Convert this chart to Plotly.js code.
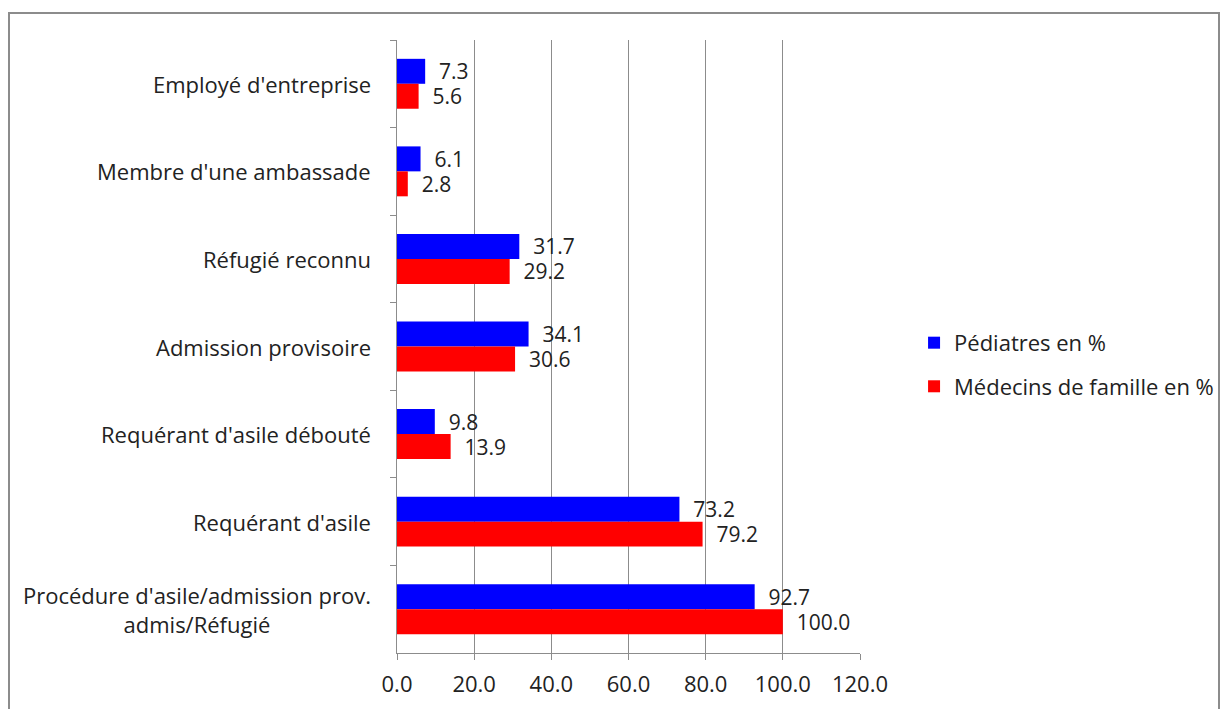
<!DOCTYPE html>
<html>
<head>
<meta charset="utf-8">
<script src="https://cdn.plot.ly/plotly-3.0.1.min.js"></script>
<style>
  html, body { margin: 0; padding: 0; background: #fff; }
  #chart { width: 1222px; height: 709px; }
  #frame { position: absolute; left: 8px; top: 12px; width: 1208px; height: 720px;
           border: 2px solid #8c8c8c; pointer-events: none; }
</style>
</head>
<body>
<div id="chart"></div>
<div id="frame"></div>
<script>
// Categories, top to bottom
const categories = [
  "Employé d'entreprise",
  "Membre d'une ambassade",
  "Réfugié reconnu",
  "Admission provisoire",
  "Requérant d'asile débouté",
  "Requérant d'asile",
  "Procédure d'asile/admission prov.<br>admis/Réfugié"
];
const pediatres = [7.3, 6.1, 31.7, 34.1, 9.8, 73.2, 92.7];
const medecins  = [5.6, 2.8, 29.2, 30.6, 13.9, 79.2, 100.0];
const seriesNames = ["Pédiatres en %", "Médecins de famille en %"];
const xTicks = [0, 20, 40, 60, 80, 100, 120];

const FONT = "Open Sans, sans-serif";
const SIZE = 22;
const TXT = "#222";
const PAD = "\u00a0\u00a0"; // gap between bar end and its value

const bar = (vals, name, color, group) => ({
  type: "bar", orientation: "h",
  y: categories, x: vals, name: name, legendgroup: group,
  marker: { color: color, line: { width: 0 } },
  text: vals.map(v => PAD + v.toFixed(1)),
  textposition: "outside",
  constraintext: "none",
  textfont: { family: FONT, size: 21, color: TXT },
  cliponaxis: false
});

const data = [
  bar(pediatres, seriesNames[0], "#0000ff", "a"),
  bar(medecins, seriesNames[1], "#ff0000", "b")
];

// Category labels drawn as centred multi-line text to the left of the axis
const labels = categories.map(c => ({
  xref: "paper", yref: "y", x: -0.052, y: c,
  xanchor: "right", yanchor: "middle", align: "center",
  text: c, showarrow: false,
  font: { family: FONT, size: SIZE, color: TXT }
}));

const layout = {
  width: 1222, height: 709,
  margin: { l: 397, r: 362, t: 40, b: 56, autoexpand: false },
  paper_bgcolor: "#fff", plot_bgcolor: "#fff",
  barmode: "group", bargap: 0.43, bargroupgap: 0,
  showlegend: true,
  legend: {
    xref: "container", x: 0.748, y: 0.47, xanchor: "left", yanchor: "middle",
    font: { family: FONT, size: SIZE, color: TXT },
    traceorder: "grouped", tracegroupgap: 12, itemwidth: 30
  },
  xaxis: {
    range: [0, 120], tickvals: xTicks, ticktext: xTicks.map(v => v.toFixed(1)),
    showgrid: true, gridcolor: "#8c8c8c", gridwidth: 1,
    zeroline: false, showline: true, linecolor: "#8c8c8c", linewidth: 1,
    ticks: "outside", ticklen: 6, tickcolor: "#8c8c8c",
    tickfont: { family: FONT, size: SIZE, color: TXT },
    ticklabelstandoff: 6,
    fixedrange: true
  },
  yaxis: {
    type: "category", autorange: "reversed",
    showticklabels: false, showgrid: false, zeroline: false,
    showline: true, linecolor: "#8c8c8c", linewidth: 1,
    ticks: "outside", ticklen: 6, tickcolor: "#8c8c8c", tickson: "boundaries",
    fixedrange: true
  },
  annotations: labels
};

Plotly.newPlot("chart", data, layout, { displayModeBar: false, staticPlot: true });
</script>
</body>
</html>
